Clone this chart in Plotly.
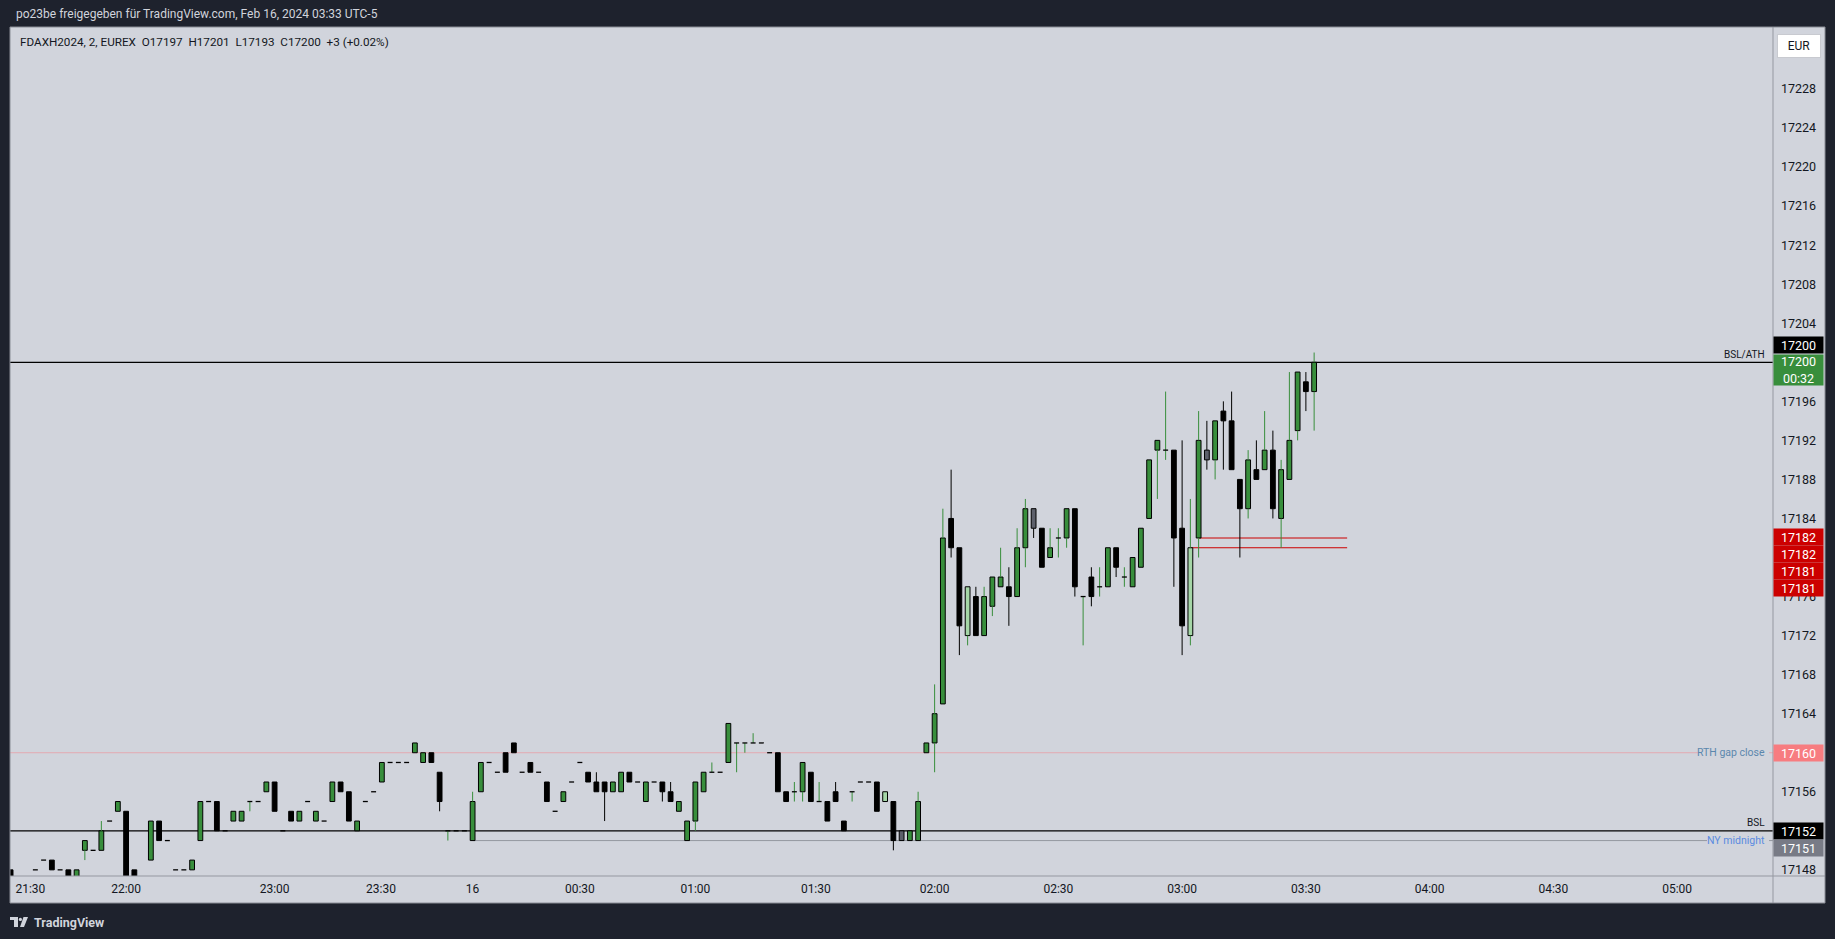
import plotly.graph_objects as go

# ---------------- data (2-minute bars, oldest first) ----------------
opens = [
    17148, 17146, 17146, 17148, 17149, 17149, 17148, 17148, 17147, 17150,
    17150, 17150, 17153, 17154, 17154, 17148, 17146, 17149, 17153, 17151,
    17148, 17148, 17148, 17151, 17155, 17155, 17152, 17153, 17153, 17155,
    17155, 17156, 17157, 17152, 17154, 17153, 17155, 17153, 17153, 17155,
    17157, 17156, 17152, 17155, 17156, 17157, 17159, 17159, 17159, 17160,
    17159, 17160, 17158, 17152, 17152, 17152, 17151, 17156, 17159, 17158,
    17160, 17161, 17158, 17159, 17158, 17157, 17154, 17155, 17157, 17159,
    17158, 17157, 17157, 17156, 17156, 17158, 17157, 17155, 17157, 17157,
    17156, 17154, 17151, 17153, 17156, 17158, 17158, 17159, 17161, 17161,
    17161, 17161, 17160, 17160, 17156, 17156, 17156, 17158, 17155, 17155,
    17156, 17153, 17156, 17157, 17157, 17157, 17155, 17155, 17152, 17151,
    17151, 17160, 17161, 17165, 17184, 17181, 17172, 17176, 17172, 17175,
    17177, 17177, 17176, 17181, 17185, 17183, 17180, 17182, 17182, 17185,
    17176, 17178, 17177, 17177, 17181, 17178, 17177, 17179, 17184, 17191,
    17191, 17191, 17183, 17172, 17182, 17191, 17190, 17195, 17194, 17188,
    17185, 17189, 17189, 17191, 17184, 17188, 17193, 17198, 17197,
]
highs = [
    17148, 17146, 17146, 17148, 17149, 17149, 17148, 17148, 17148, 17151,
    17150, 17153, 17153, 17155, 17154, 17148, 17146, 17153, 17153, 17151,
    17148, 17148, 17149, 17155, 17155, 17155, 17152, 17154, 17154, 17155,
    17155, 17157, 17157, 17152, 17154, 17154, 17155, 17154, 17153, 17157,
    17157, 17156, 17153, 17155, 17156, 17159, 17159, 17159, 17159, 17161,
    17160, 17160, 17158, 17152, 17152, 17152, 17156, 17159, 17159, 17158,
    17160, 17161, 17158, 17159, 17158, 17157, 17154, 17156, 17157, 17159,
    17158, 17158, 17157, 17157, 17158, 17158, 17157, 17157, 17157, 17157,
    17157, 17155, 17153, 17157, 17158, 17159, 17158, 17163, 17161, 17161,
    17162, 17161, 17160, 17160, 17156, 17157, 17159, 17158, 17157, 17155,
    17157, 17153, 17156, 17157, 17157, 17157, 17156, 17155, 17152, 17152,
    17156, 17161, 17167, 17185, 17189, 17181, 17177, 17177, 17177, 17178,
    17181, 17179, 17183, 17186, 17185, 17183, 17183, 17183, 17185, 17185,
    17176, 17179, 17179, 17181, 17181, 17179, 17180, 17183, 17190, 17192,
    17197, 17191, 17192, 17186, 17195, 17194, 17194, 17196, 17197, 17188,
    17191, 17192, 17195, 17193, 17190, 17199, 17199, 17199, 17201,
]
lows = [
    17147, 17146, 17146, 17148, 17149, 17148, 17148, 17147, 17147, 17149,
    17150, 17150, 17153, 17154, 17146, 17147, 17146, 17149, 17151, 17151,
    17148, 17148, 17148, 17151, 17155, 17152, 17152, 17153, 17153, 17154,
    17155, 17156, 17154, 17152, 17153, 17153, 17155, 17153, 17153, 17155,
    17156, 17153, 17152, 17155, 17156, 17157, 17159, 17159, 17159, 17160,
    17159, 17159, 17154, 17151, 17152, 17152, 17151, 17156, 17159, 17158,
    17158, 17160, 17158, 17158, 17158, 17155, 17154, 17155, 17157, 17159,
    17157, 17156, 17153, 17156, 17156, 17157, 17157, 17155, 17157, 17155,
    17155, 17154, 17151, 17152, 17156, 17158, 17158, 17159, 17158, 17160,
    17161, 17161, 17160, 17156, 17155, 17155, 17155, 17155, 17155, 17153,
    17155, 17152, 17155, 17157, 17157, 17154, 17155, 17150, 17151, 17151,
    17151, 17160, 17158, 17165, 17180, 17170, 17171, 17172, 17172, 17174,
    17177, 17173, 17176, 17179, 17182, 17179, 17180, 17180, 17181, 17176,
    17171, 17175, 17176, 17177, 17178, 17177, 17177, 17179, 17184, 17186,
    17190, 17177, 17170, 17171, 17180, 17189, 17188, 17189, 17189, 17180,
    17184, 17188, 17189, 17184, 17181, 17188, 17192, 17195, 17193,
]
closes = [
    17147, 17146, 17146, 17148, 17149, 17148, 17148, 17147, 17148, 17151,
    17150, 17152, 17153, 17155, 17147, 17147, 17146, 17153, 17151, 17151,
    17148, 17148, 17149, 17155, 17155, 17152, 17152, 17154, 17154, 17155,
    17155, 17157, 17154, 17152, 17153, 17154, 17155, 17154, 17153, 17157,
    17156, 17153, 17153, 17155, 17156, 17159, 17159, 17159, 17159, 17161,
    17160, 17159, 17155, 17152, 17152, 17152, 17155, 17159, 17159, 17158,
    17158, 17160, 17158, 17158, 17158, 17155, 17154, 17156, 17157, 17159,
    17157, 17156, 17156, 17157, 17158, 17157, 17157, 17157, 17157, 17156,
    17155, 17155, 17153, 17157, 17158, 17158, 17158, 17163, 17161, 17161,
    17161, 17161, 17160, 17156, 17155, 17156, 17159, 17155, 17155, 17153,
    17155, 17152, 17156, 17157, 17157, 17154, 17156, 17151, 17151, 17152,
    17155, 17161, 17164, 17182, 17181, 17173, 17177, 17172, 17176, 17178,
    17178, 17176, 17181, 17185, 17183, 17179, 17181, 17182, 17185, 17177,
    17176, 17176, 17177, 17181, 17179, 17178, 17180, 17183, 17190, 17192,
    17191, 17182, 17173, 17181, 17192, 17190, 17194, 17194, 17189, 17185,
    17190, 17188, 17191, 17185, 17189, 17192, 17199, 17197, 17200,
]
# bars painted in the alternate (highlight) colours
marked_bars = [106, 108, 116, 124, 143, 145]

# time axis: bar index of each label
tick_bars = [2.4, 14, 32, 44.9, 56, 69, 83, 97.6, 112, 127, 142, 157, 172, 187, 202]
tick_labels = ["21:30", "22:00", "23:00", "23:30", "16", "00:30", "01:00", "01:30",
               "02:00", "02:30", "03:00", "03:30", "04:00", "04:30", "05:00"]
# price scale labels (those hidden behind price tags are left out, as on the chart)
price_ticks = [17148, 17156, 17164, 17168, 17172, 17176, 17184, 17188, 17192, 17196,
               17204, 17208, 17212, 17216, 17220, 17224, 17228]

# horizontal levels
ath_level = 17200
rth_gap_level = 17160
bsl_level = 17152
ny_midnight_level = 17151
ny_midnight_start = 56
zone_levels = [17182, 17181]
zone_starts = [144, 143]
zone_end = 162
last_price = 17200
countdown = "00:32"

header = "po23be freigegeben für TradingView.com, Feb 16, 2024 03:33 UTC-5"
legend = "FDAXH2024, 2, EUREX  O17197  H17201  L17193  C17200  +3 (+0.02%)"

# ---------------- styling ----------------
BG = "#d1d4dc"
DARK = "#1e222d"
GREEN = "#388e3c"
LIGHT_GREEN = "#a5d6a7"
GRAY_BODY = "#5d606b"
TXT = "#131722"
FONT = "Roboto"

W, H = 1835, 939
L, R, T, B = 10, 62, 27, 63
PW, PH = W - L - R, H - T - B
XR = [-0.073, 213.62]
YR = [17147.37, 17234.35]


def pxx(px):
    return (px - L) / PW


def pxy(py):
    return (H - B - py) / PH


def px_to_bar(px):
    return XR[0] + (px - L) / PW * (XR[1] - XR[0])


n = len(opens)
idx = list(range(n))

body_x, body_h, body_base, body_col = [], [], [], []
doji_x, doji_y = [], []
wick_g_x, wick_g_y, wick_b_x, wick_b_y = [], [], [], []
for i in idx:
    o, h, l, c = opens[i], highs[i], lows[i], closes[i]
    top, bot = max(o, c), min(o, c)
    up = c >= o
    wx, wy = (wick_g_x, wick_g_y) if up else (wick_b_x, wick_b_y)
    if h > top:
        wx += [i, i, None]
        wy += [h, top, None]
    if l < bot:
        wx += [i, i, None]
        wy += [bot, l, None]
    if o == c:
        doji_x += [i - 0.3, i + 0.3, None]
        doji_y += [o, o, None]
    else:
        body_x.append(i)
        body_h.append(top - bot)
        body_base.append(bot)
        if i in marked_bars:
            body_col.append(LIGHT_GREEN if up else GRAY_BODY)
        else:
            body_col.append(GREEN if up else "#000000")

fig = go.Figure()
fig.add_trace(go.Scatter(x=wick_g_x, y=wick_g_y, mode="lines",
                         line=dict(color=GREEN, width=1), hoverinfo="skip"))
fig.add_trace(go.Scatter(x=wick_b_x, y=wick_b_y, mode="lines",
                         line=dict(color="#000000", width=1), hoverinfo="skip"))
fig.add_trace(go.Bar(x=body_x, y=body_h, base=body_base, width=0.58,
                     marker=dict(color=body_col, line=dict(color="#000000", width=1)),
                     hoverinfo="skip"))
fig.add_trace(go.Scatter(x=doji_x, y=doji_y, mode="lines",
                         line=dict(color="#000000", width=1.3), hoverinfo="skip"))

shapes = [
    # light axis strips
    dict(type="rect", xref="paper", yref="paper", x0=0, x1=pxx(1825), y0=pxy(903), y1=1,
         fillcolor=BG, line=dict(width=0), layer="below"),
    # level lines
    dict(type="line", xref="paper", yref="y", x0=0, x1=1, y0=ath_level, y1=ath_level,
         line=dict(color="#000000", width=1.2), layer="below"),
    dict(type="line", xref="paper", yref="y", x0=0, x1=1, y0=bsl_level, y1=bsl_level,
         line=dict(color="#000000", width=1.2), layer="below"),
    dict(type="line", xref="paper", yref="y", x0=0, x1=pxx(1699), y0=rth_gap_level, y1=rth_gap_level,
         line=dict(color="#e3a9b3", width=1), layer="below"),
    dict(type="line", xref="paper", yref="y", x0=pxx(1769), x1=1, y0=rth_gap_level, y1=rth_gap_level,
         line=dict(color="#e3a9b3", width=1), layer="below"),
    dict(type="line", xref="x", yref="y", x0=ny_midnight_start, x1=px_to_bar(1707),
         y0=ny_midnight_level, y1=ny_midnight_level,
         line=dict(color="#9598a1", width=1), layer="below"),
    dict(type="line", xref="paper", yref="y", x0=pxx(1769), x1=1,
         y0=ny_midnight_level, y1=ny_midnight_level,
         line=dict(color="#9598a1", width=1), layer="below"),
    # chrome borders
    dict(type="line", xref="paper", yref="paper", x0=1, x1=1, y0=pxy(903), y1=1,
         line=dict(color="#9598a1", width=1)),
    dict(type="line", xref="paper", yref="paper", x0=0, x1=pxx(1825), y0=0, y1=0,
         line=dict(color="#9598a1", width=1)),
    dict(type="rect", xref="paper", yref="paper", x0=0, x1=pxx(1825), y0=pxy(903), y1=1,
         line=dict(color="#8a8d96", width=1)),
]
for lv, st in zip(zone_levels, zone_starts):
    shapes.append(dict(type="line", xref="x", yref="y", x0=st, x1=zone_end, y0=lv, y1=lv,
                       line=dict(color="#cc0000", width=1.2), layer="below"))

# TradingView logo (bottom left)
logo_col = "#d1d4dc"
shapes += [
    dict(type="rect", xref="paper", yref="paper", x0=pxx(10), x1=pxx(18), y0=pxy(920), y1=pxy(917),
         fillcolor=logo_col, line=dict(width=0)),
    dict(type="rect", xref="paper", yref="paper", x0=pxx(14), x1=pxx(18), y0=pxy(927), y1=pxy(917),
         fillcolor=logo_col, line=dict(width=0)),
    dict(type="circle", xref="paper", yref="paper", x0=pxx(18.8), x1=pxx(22), y0=pxy(921), y1=pxy(917.8),
         fillcolor=logo_col, line=dict(width=0)),
    dict(type="path", xref="paper", yref="paper",
         path=f"M {pxx(23.5)},{pxy(917)} L {pxx(28)},{pxy(917)} L {pxx(24)},{pxy(927)} L {pxx(20)},{pxy(927)} Z",
         fillcolor=logo_col, line=dict(width=0)),
]


def price_label(y, text, bg, yshift=0, h=14):
    return dict(xref="paper", x=1.0, xanchor="left", yref="y", y=y, yanchor="middle",
                yshift=yshift, text=text, showarrow=False, bgcolor=bg,
                font=dict(color="#ffffff", size=12.5, family=FONT),
                width=47, height=h, borderpad=1, align="center")


def line_label(y, text, color, x_px, yshift=0, size=10.5):
    return dict(xref="paper", x=pxx(x_px), xanchor="right", yref="y", y=y, yanchor="middle",
                yshift=yshift, text=text, showarrow=False,
                font=dict(color=color, size=size, family=FONT))


annotations = [
    line_label(ath_level, "BSL/ATH", TXT, 1767, yshift=8, size=10),
    line_label(bsl_level, "BSL", TXT, 1767, yshift=8, size=10),
    line_label(rth_gap_level, "RTH gap close", "#5b87ad", 1767),
    line_label(ny_midnight_level, "NY midnight", "#5a8be0", 1767),
    price_label(ath_level, str(ath_level), "#000000", yshift=17),
    price_label(last_price, f"{last_price}<br>{countdown}", GREEN, yshift=-8, h=28),
    price_label(zone_levels[0], str(zone_levels[0]), "#cc0000", yshift=1),
    price_label(zone_levels[0], str(zone_levels[0]), "#cc0000", yshift=-16),
    price_label(zone_levels[1], str(zone_levels[1]), "#cc0000", yshift=-23.5),
    price_label(zone_levels[1], str(zone_levels[1]), "#cc0000", yshift=-40.5),
    price_label(rth_gap_level, str(rth_gap_level), "#f77c80"),
    price_label(bsl_level, str(bsl_level), "#000000"),
    price_label(ny_midnight_level, str(ny_midnight_level), "#787b86", yshift=-7),
    # header / legend / currency / footer
    dict(xref="paper", yref="paper", x=pxx(14), y=pxy(14), xanchor="left", yanchor="middle",
         text=header, showarrow=False, font=dict(color="#d1d4dc", size=12, family=FONT)),
    dict(xref="paper", yref="paper", x=pxx(18), y=pxy(42), xanchor="left", yanchor="middle",
         text=legend, showarrow=False, font=dict(color=TXT, size=11.7, family=FONT)),
    dict(xref="paper", yref="paper", x=pxx(1798.5), y=pxy(45.5), xanchor="center", yanchor="middle",
         text="EUR", showarrow=False, bgcolor="#ffffff", bordercolor="#c8cad0", borderwidth=1,
         width=40, height=20, borderpad=1, font=dict(color=TXT, size=12, family=FONT)),
    dict(xref="paper", yref="paper", x=pxx(32), y=pxy(922), xanchor="left", yanchor="middle",
         text="<b>TradingView</b>", showarrow=False, font=dict(color="#d1d4dc", size=12.5, family=FONT)),
]

fig.update_layout(
    width=W, height=H,
    margin=dict(l=L, r=R, t=T, b=B, pad=0),
    paper_bgcolor=DARK, plot_bgcolor=BG,
    showlegend=False, hovermode=False,
    shapes=shapes, annotations=annotations,
    xaxis=dict(range=XR, showgrid=False, zeroline=False, showline=False, ticks="",
               tickmode="array", tickvals=tick_bars, ticktext=tick_labels,
               tickfont=dict(color=TXT, size=12, family=FONT), ticklabelstandoff=4,
               fixedrange=True),
    yaxis=dict(range=YR, side="right", showgrid=False, zeroline=False, showline=False,
               ticks="", tickmode="array", tickvals=price_ticks,
               ticktext=[str(v) for v in price_ticks],
               tickfont=dict(color=TXT, size=12.5, family=FONT), ticklabelstandoff=7,
               fixedrange=True),
)

fig.write_html("out.html", config={"displayModeBar": False},
               post_script="document.body.style.margin='0';document.body.style.overflow='hidden';")
